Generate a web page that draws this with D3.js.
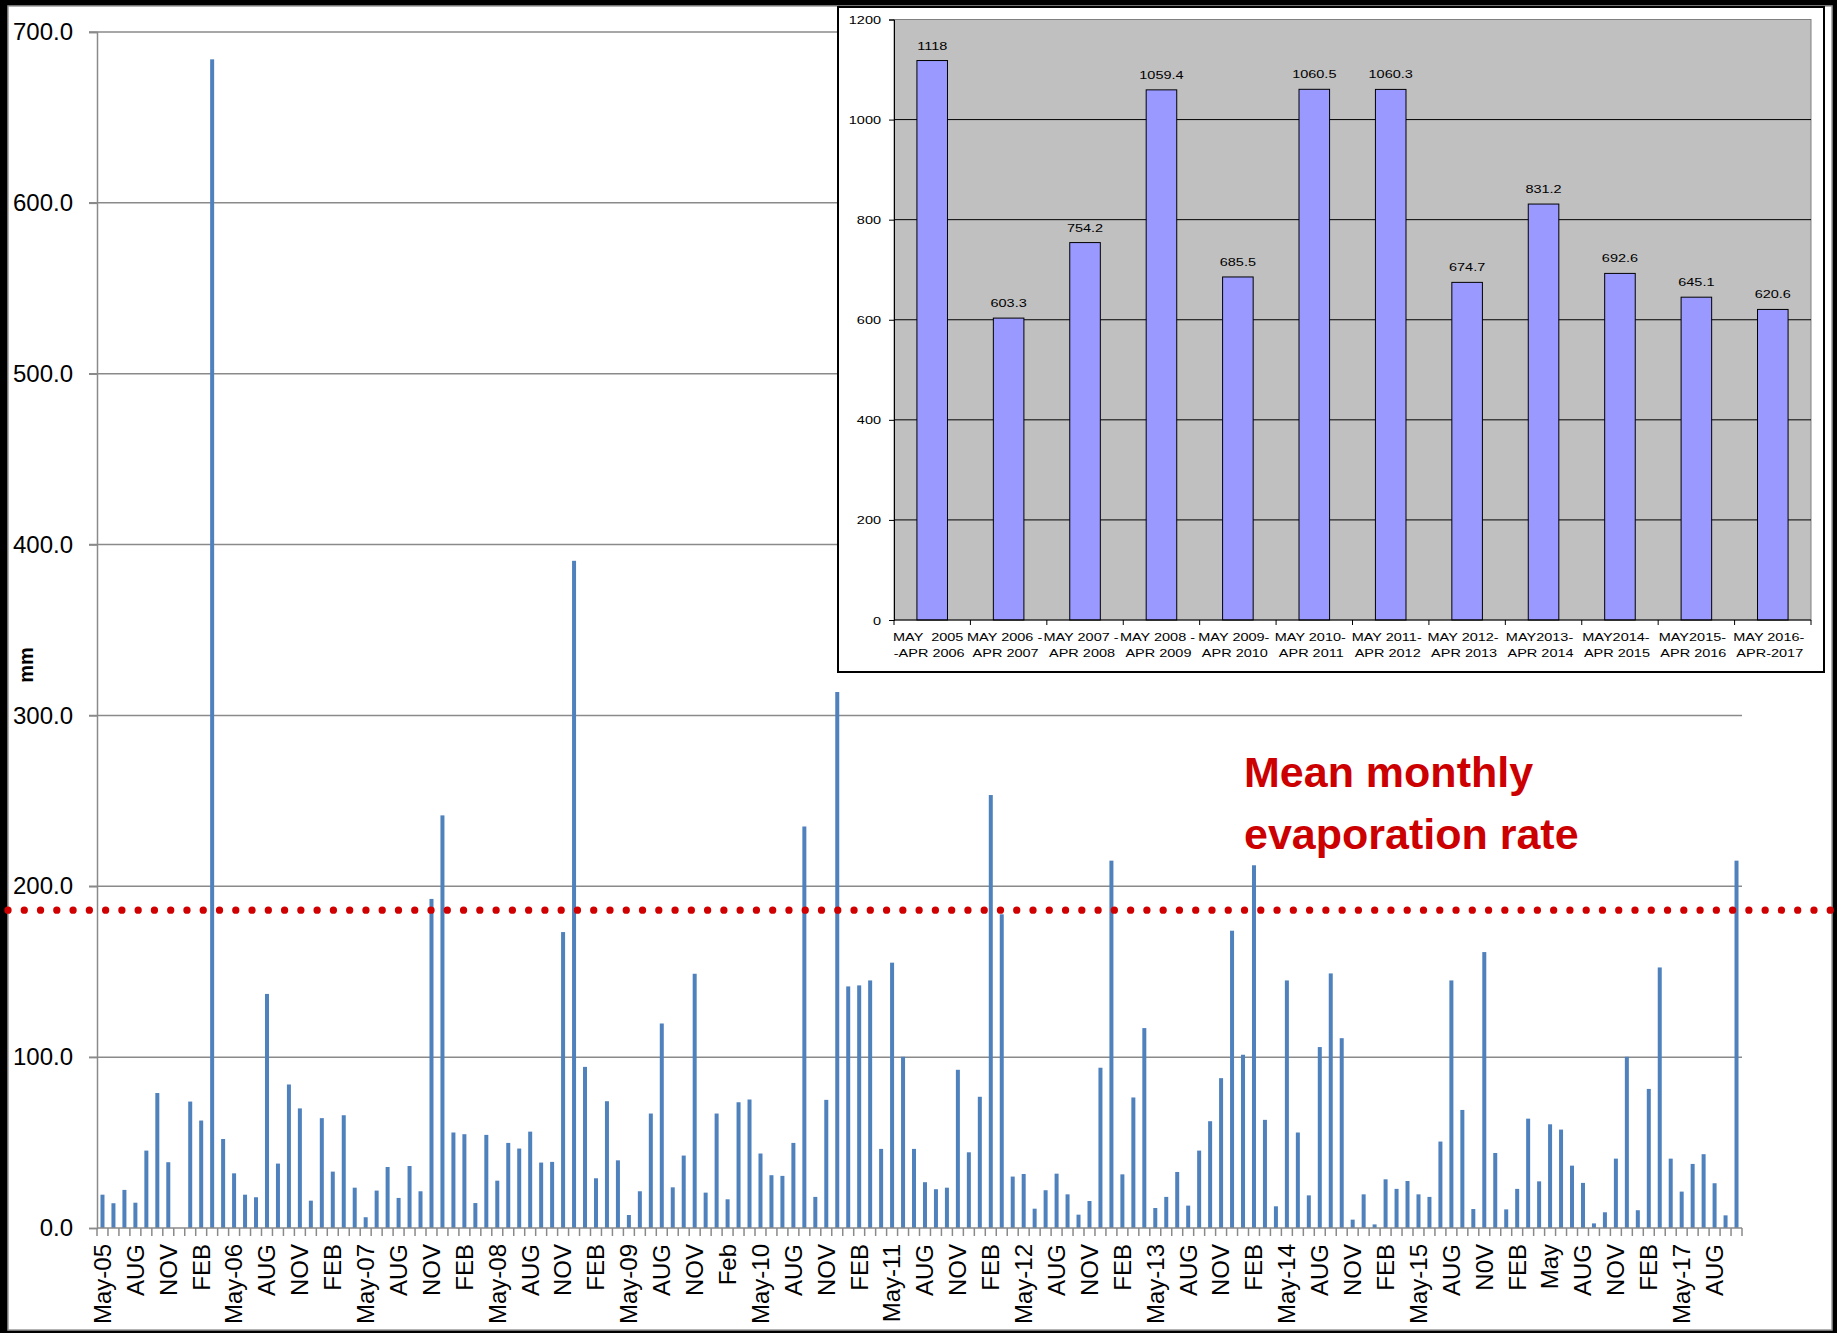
<!DOCTYPE html>
<html>
<head>
<meta charset="utf-8">
<script src="https://cdn.jsdelivr.net/npm/d3@7"></script>
<style>
  html, body { margin: 0; padding: 0; background: #000; }
  svg { display: block; }
</style>
</head>
<body>
<svg id="chart" width="1837" height="1333"></svg>
<script>
// ---------------- DATA ----------------
// Monthly evaporation (mm), May 2005 .. Oct 2017 (150 months)
const monthlyValues = [
  19.5, 14.5, 22.3, 14.8, 45.3, 79, 38.5, 0, 74, 62.9, 684, 52.1,
  32, 19.5, 18, 137, 37.7, 84, 70, 16, 64.3, 33, 66, 23.6,
  6.3, 21.9, 35.7, 17.6, 36.3, 21.5, 192.6, 241.5, 55.9, 54.9, 14.6, 54.5,
  27.7, 49.8, 46.5, 56.4, 38.3, 38.7, 173.2, 390.5, 94.3, 29.1, 74.2, 39.6,
  7.6, 21.5, 67, 119.7, 23.8, 42.4, 148.8, 20.7, 67, 16.8, 73.6, 75.2,
  43.6, 30.9, 30.5, 49.8, 235, 18.2, 75, 313.7, 141.4, 142, 144.9, 46.3,
  155.3, 100.2, 46.3, 26.8, 22.7, 23.6, 92.6, 44.3, 76.8, 253.4, 183.6, 30.1,
  31.6, 11.3, 22.1, 31.8, 19.7, 7.8, 15.8, 93.8, 215, 31.4, 76.4, 117,
  11.7, 18.2, 32.8, 13.1, 45.3, 62.5, 87.7, 174, 101.4, 212.3, 63.3, 12.7,
  144.9, 55.9, 19.1, 105.9, 149, 111.1, 4.9, 19.7, 2.1, 28.5, 22.9, 27.5,
  19.7, 18.2, 50.6, 144.9, 69.1, 11.1, 161.5, 43.9, 10.9, 22.9, 64, 27.3,
  60.7, 57.6, 36.5, 26.4, 2.7, 9.2, 40.6, 100.2, 10.4, 81.4, 152.5, 40.6,
  21.3, 37.5, 43.2, 26.2, 7.4, 215
];
// Labels shown on every third month
const monthTickLabels = [
  "May-05","AUG","NOV","FEB",
  "May-06","AUG","NOV","FEB",
  "May-07","AUG","NOV","FEB",
  "May-08","AUG","NOV","FEB",
  "May-09","AUG","NOV","Feb",
  "May-10","AUG","NOV","FEB",
  "May-11","AUG","NOV","FEB",
  "May-12","AUG","NOV","FEB",
  "May-13","AUG","NOV","FEB",
  "May-14","AUG","NOV","FEB",
  "May-15","AUG","N0V","FEB",
  "May","AUG","NOV","FEB",
  "May-17","AUG"
];
const mainYTicks = [0, 100, 200, 300, 400, 500, 600, 700];
const meanMonthly = 186;
const meanText = ["Mean monthly", "evaporation rate"];
const yTitle = "mm";

// Inset: annual totals
const seasonLine1 = ["MAY  2005","MAY 2006 -","MAY 2007 -","MAY 2008 -","MAY 2009-","MAY 2010-",
                     "MAY 2011-","MAY 2012-","MAY2013-","MAY2014-","MAY2015-","MAY 2016-"];
const seasonLine2 = ["-APR 2006","APR 2007","APR 2008","APR 2009","APR 2010","APR 2011",
                     "APR 2012","APR 2013","APR 2014","APR 2015","APR 2016","APR-2017"];
const seasonTotals = [1118, 603.3, 754.2, 1059.4, 685.5, 1060.5, 1060.3, 674.7, 831.2, 692.6, 645.1, 620.6];
const insetYTicks = [0, 200, 400, 600, 800, 1000, 1200];

// ---------------- DRAW ----------------
const svg = d3.select("#chart");
const FONT = "'Liberation Sans', Arial, sans-serif";

// white panel
svg.append("rect").attr("x", 8).attr("y", 6).attr("width", 1824).attr("height", 1324)
  .attr("fill", "#fff").attr("stroke", "#9a9a9a").attr("stroke-width", 1.5);

// main scales
const idx = d3.range(monthlyValues.length);
const x = d3.scaleBand().domain(idx).range([97, 1742]).padding(0);
const y = d3.scaleLinear().domain([0, 700]).range([1228, 32]);

const main = svg.append("g");

// gridlines
main.append("g").selectAll("line").data(mainYTicks.filter(d => d > 0)).join("line")
  .attr("x1", 89).attr("x2", 1742)
  .attr("y1", d => y(d)).attr("y2", d => y(d))
  .attr("stroke", "#8a8a8a").attr("stroke-width", 1.5);

// y axis
const yAxis = d3.axisLeft(y).tickValues(mainYTicks).tickFormat(d3.format(".1f")).tickSize(8).tickPadding(16);
const yG = main.append("g").attr("transform", "translate(97,0)").call(yAxis);
yG.select(".domain").attr("stroke", "#8a8a8a").attr("stroke-width", 1.5);
yG.selectAll(".tick line").attr("stroke", "#8a8a8a").attr("stroke-width", 1.5);
yG.selectAll(".tick text").attr("font-family", FONT).attr("font-size", 24).attr("fill", "#000");

// y title
main.append("text").attr("transform", "translate(33,665) rotate(-90)")
  .attr("text-anchor", "middle").attr("font-family", FONT).attr("font-weight", "bold")
  .attr("font-size", 20).attr("fill", "#000").text(yTitle);

// bars
const barW = 4;
main.append("g").selectAll("rect").data(monthlyValues).join("rect")
  .attr("x", (d, i) => x(i) + x.bandwidth() / 2 - barW / 2)
  .attr("width", barW)
  .attr("y", d => y(d))
  .attr("height", d => y(0) - y(d))
  .attr("fill", "#4f81bd");

// x axis line + ticks at category boundaries
main.append("line").attr("x1", 97).attr("x2", 1742).attr("y1", y(0)).attr("y2", y(0))
  .attr("stroke", "#8a8a8a").attr("stroke-width", 1.5);
const bounds = d3.range(monthlyValues.length + 1).map(i => 97 + i * x.step());
main.append("g").selectAll("line").data(bounds).join("line")
  .attr("x1", d => d).attr("x2", d => d).attr("y1", y(0)).attr("y2", y(0) + 8)
  .attr("stroke", "#8a8a8a").attr("stroke-width", 1.5);

// x tick labels (every third month)
main.append("g").selectAll("text").data(monthTickLabels).join("text")
  .attr("transform", (d, k) => `translate(${x(k * 3) + x.bandwidth() / 2},1244) rotate(-90)`)
  .attr("dy", "0.35em").attr("text-anchor", "end")
  .attr("font-family", FONT).attr("font-size", 24).attr("fill", "#000")
  .text(d => d);

// mean line (dotted)
main.append("line").attr("x1", 8).attr("x2", 1837).attr("y1", y(meanMonthly)).attr("y2", y(meanMonthly))
  .attr("stroke", "#d00000").attr("stroke-width", 7.3).attr("stroke-linecap", "round")
  .attr("stroke-dasharray", "0 16.27");

// mean text
main.append("g").selectAll("text").data(meanText).join("text")
  .attr("x", 1244).attr("y", (d, i) => 787 + i * 62)
  .attr("font-family", FONT).attr("font-weight", "bold").attr("font-size", 43)
  .attr("fill", "#cc0000").text(d => d);

// ---------------- INSET ----------------
const inset = svg.append("g");
inset.append("rect").attr("x", 838).attr("y", 7).attr("width", 986).attr("height", 665)
  .attr("fill", "#fff").attr("stroke", "#000").attr("stroke-width", 2);

const ix = d3.scaleBand().domain(d3.range(seasonTotals.length)).range([894, 1811]).paddingInner(0.6).paddingOuter(0.3);
const iy = d3.scaleLinear().domain([0, 1200]).range([620, 19.5]);
const SX = 1.26, IFS = 11.5;

inset.append("rect").attr("x", 894).attr("y", iy(1200)).attr("width", 1811 - 894).attr("height", iy(0) - iy(1200))
  .attr("fill", "#c0c0c0").attr("stroke", "#808080").attr("stroke-width", 1);

inset.append("g").selectAll("line").data(insetYTicks.filter(d => d > 0 && d < 1200)).join("line")
  .attr("x1", 894).attr("x2", 1811).attr("y1", d => iy(d)).attr("y2", d => iy(d))
  .attr("stroke", "#000").attr("stroke-width", 1);

const iyAxis = d3.axisLeft(iy).tickValues(insetYTicks).tickFormat(d3.format("d")).tickSize(5).tickPadding(8);
const iyG = inset.append("g").attr("transform", "translate(894,0)").call(iyAxis);
iyG.select(".domain").attr("stroke", "#000");
iyG.selectAll(".tick line").attr("stroke", "#000");
iyG.selectAll(".tick text")
  .attr("x", null).attr("dy", null)
  .attr("transform", d => `translate(-13,4) scale(${SX},1)`)
  .attr("font-family", FONT).attr("font-size", IFS).attr("fill", "#000");

inset.append("g").selectAll("rect").data(seasonTotals).join("rect")
  .attr("x", (d, i) => ix(i)).attr("width", ix.bandwidth())
  .attr("y", d => iy(d)).attr("height", d => iy(0) - iy(d))
  .attr("fill", "#9999ff").attr("stroke", "#000").attr("stroke-width", 1);

inset.append("g").selectAll("text").data(seasonTotals).join("text")
  .attr("transform", (d, i) => `translate(${ix(i) + ix.bandwidth() / 2},${iy(d) - 11}) scale(${SX},1)`)
  .attr("text-anchor", "middle").attr("font-family", FONT).attr("font-size", IFS).attr("fill", "#000")
  .text(d => String(d));

inset.append("line").attr("x1", 894).attr("x2", 1811).attr("y1", iy(0)).attr("y2", iy(0)).attr("stroke", "#000");
const ibounds = d3.range(seasonTotals.length + 1).map(i => 894 + i * ((1811 - 894) / seasonTotals.length));
inset.append("g").selectAll("line").data(ibounds).join("line")
  .attr("x1", d => d).attr("x2", d => d).attr("y1", iy(0)).attr("y2", iy(0) + 5).attr("stroke", "#000");

const ilab = inset.append("g").attr("font-family", FONT).attr("font-size", IFS).attr("fill", "#000").attr("text-anchor", "middle");
ilab.selectAll("text.l1").data(seasonLine1).join("text").attr("class", "l1")
  .attr("transform", (d, i) => `translate(${ix(i) + ix.bandwidth() / 2 - 4},641) scale(${SX},1)`)
  .attr("xml:space", "preserve").style("white-space", "pre").text(d => d);
ilab.selectAll("text.l2").data(seasonLine2).join("text").attr("class", "l2")
  .attr("transform", (d, i) => `translate(${ix(i) + ix.bandwidth() / 2 - 3},657) scale(${SX},1)`)
  .text(d => d);
</script>
</body>
</html>
